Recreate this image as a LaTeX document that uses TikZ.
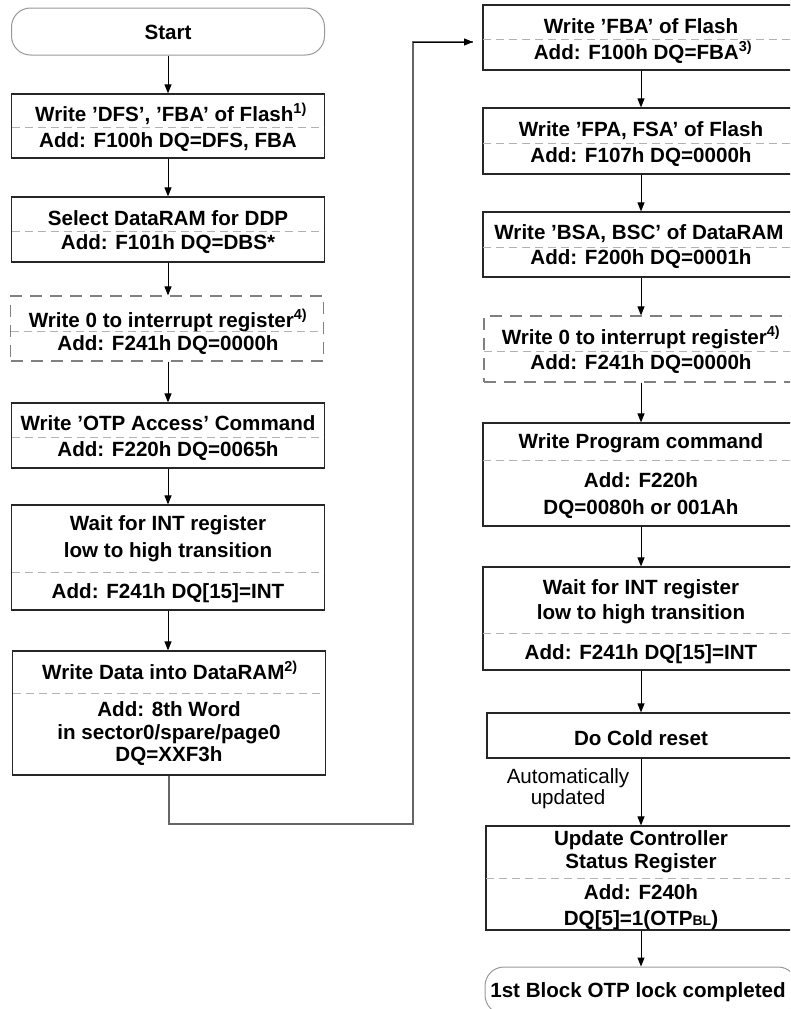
\documentclass[tikz,border=0pt]{standalone}
\usepackage{fontspec}
\setmainfont{Liberation Sans}
\usetikzlibrary{arrows.meta}
\begin{document}
\begin{tikzpicture}[x=1pt,y=-1pt,
  font=\fontsize{20.6}{24}\selectfont\bfseries,
  box/.style={draw=black!85, line width=1.2pt, minimum width=313pt, inner sep=0pt},
  dbox/.style={draw=black!50, line width=1.2pt, dash pattern=on 12pt off 8pt, minimum width=313pt, inner sep=0pt},
  term/.style={draw=black!40, line width=1pt, rounded corners=19pt, minimum width=313pt, minimum height=47pt, inner sep=0pt},
  sepline/.style={draw=black!30, line width=0.8pt, dash pattern=on 8pt off 5pt},
  arr/.style={-{Triangle[length=9pt,width=7pt]}, line width=1pt, draw=black},
  txt/.style={inner sep=0pt, anchor=base},
  reg/.style={inner sep=0pt, anchor=base, font=\fontsize{20.6}{24}\selectfont\mdseries}
]
\useasboundingbox (0,0) rectangle (790,1009);
\clip (0,0) rectangle (790,1009);
\fill[white] (0,0) rectangle (790,1009);

% ---------------- left column ----------------
\node[term] (start) at (168,31.5) {};
\node[txt] (starttxt) at (168,39) {Start};

\node[box, minimum height=64pt] (L1) at (168,126) {};
\draw[sepline] (12,127) -- (324,127);
\node[txt] (L1a) at (171,121) {Write ’DFS’, ’FBA’ of Flash\textsuperscript{1)}};
\node[txt] (L1b) at (168,147) {Add: F100h DQ=DFS, FBA};

\node[box, minimum height=65pt] (L2) at (168,229.5) {};
\draw[sepline] (12,231) -- (324,231);
\node[txt] (L2a) at (168,225) {Select DataRAM for DDP};
\node[txt] (L2b) at (168,249) {Add: F101h DQ=DBS*};

\node[dbox, minimum height=65pt] (L3) at (167,328.5) {};
\draw[sepline] (11,331) -- (323,331);
\node[txt] (L3a) at (168,327) {Write 0 to interrupt register\textsuperscript{4)}};
\node[txt] (L3b) at (168,350) {Add: F241h DQ=0000h};

\node[box, minimum height=65pt] (L4) at (168,435.5) {};
\draw[sepline] (12,437) -- (324,437);
\node[txt] (L4a) at (168,430) {Write ’OTP Access’ Command};
\node[txt] (L4b) at (168,456) {Add: F220h DQ=0065h};

\node[box, minimum height=105pt] (L5) at (168,557.5) {};
\draw[sepline] (12,572) -- (324,572);
\node[txt] (L5a) at (168,530) {Wait for INT register};
\node[txt] (L5b) at (168,557) {low to high transition};
\node[txt] (L5c) at (168,598) {Add: F241h DQ[15]=INT};

\node[box, minimum height=124pt] (L6) at (169,713) {};
\draw[sepline] (13,693) -- (325,693);
\node[txt] (L6a) at (170,679) {Write Data into DataRAM\textsuperscript{2)}};
\node[txt] (L6b) at (169,716) {Add: 8th Word};
\node[txt] (L6c) at (169,739) {in sector0/spare/page0};
\node[txt] (L6d) at (169,761) {DQ=XXF3h};

\draw[arr] (start.south) -- (L1.north);
\draw[arr] (L1.south) -- (L2.north);
\draw[arr] (L2.south) -- (L3.north -| L2.south);
\draw[arr] (L3.south -| L4.north) -- (L4.north);
\draw[arr] (L4.south) -- (L5.north);
\draw[arr] (L5.south) -- (L5.south |- L6.north);

% ---------------- right column ----------------
\node[box, minimum width=316pt, minimum height=65pt] (R1) at (641,37.5) {};
\draw[sepline] (483,39) -- (799,39);
\node[txt] (R1a) at (641,33) {Write ’FBA’ of Flash};
\node[txt] (R1b) at (643,59) {Add: F100h DQ=FBA\textsuperscript{3)}};

\node[box, minimum width=316pt, minimum height=66pt] (R2) at (641,141) {};
\draw[sepline] (483,143) -- (799,143);
\node[txt] (R2a) at (641,136) {Write ’FPA, FSA’ of Flash};
\node[txt] (R2b) at (641,162) {Add: F107h DQ=0000h};

\node[box, minimum width=316pt, minimum height=65pt] (R3) at (641,244.5) {};
\draw[sepline] (483,247) -- (799,247);
\node[txt] (R3a) at (639,239) {Write ’BSA, BSC’ of DataRAM};
\node[txt] (R3b) at (641,264) {Add: F200h DQ=0001h};

\node[dbox, minimum width=316pt, minimum height=66pt] (R4) at (642,349) {};
\draw[sepline] (484,351) -- (799,351);
\node[txt] (R4a) at (641,344) {Write 0 to interrupt register\textsuperscript{4)}};
\node[txt] (R4b) at (641,369) {Add: F241h DQ=0000h};

\node[box, minimum width=316pt, minimum height=103pt] (R5) at (641,474.5) {};
\draw[sepline] (483,460) -- (799,460);
\node[txt] (R5a) at (641,448) {Write Program command};
\node[txt] (R5b) at (641,487) {Add: F220h};
\node[txt] (R5c) at (641,514) {DQ=0080h or 001Ah};

\node[box, minimum width=316pt, minimum height=103pt] (R6) at (641,618.5) {};
\draw[sepline] (483,633) -- (799,633);
\node[txt] (R6a) at (641,594) {Wait for INT register};
\node[txt] (R6b) at (641,619) {low to high transition};
\node[txt] (R6c) at (641,659) {Add: F241h DQ[15]=INT};

\node[box, minimum width=310pt, minimum height=45pt] (R7) at (642,735.5) {};
\node[txt] (R7a) at (641,745) {Do Cold reset};

\node[box, minimum width=312pt, minimum height=104pt] (R8) at (642,878) {};
\draw[sepline] (486,878) -- (799,878);
\node[txt] (R8a) at (641,845) {Update Controller};
\node[txt] (R8b) at (641,868) {Status Register};
\node[txt] (R8c) at (641,899) {Add: F240h};
\node[txt] (R8d) at (641,925) {DQ[5]=1(OTP{\fontsize{14}{14}\selectfont BL})};

\node[term, minimum width=312pt] (endt) at (641,990.5) {};
\node[txt] (endtxt) at (638,997) {1st Block OTP lock completed};

\node[reg] (auto1) at (568,783) {Automatically};
\node[reg] (auto2) at (568,804) {updated};

\draw[arr] (R1.south -| 641,0) -- (R2.north -| 641,0);
\draw[arr] (R2.south -| 641,0) -- (R3.north -| 641,0);
\draw[arr] (R3.south -| 641,0) -- (R4.north -| 641,0);
\draw[arr] (R4.south -| 641,0) -- (R5.north -| 641,0);
\draw[arr] (R5.south -| 641,0) -- (R6.north -| 641,0);
\draw[arr] (R6.south -| 641,0) -- (R7.north -| 641,0);
\draw[arr] (R7.south -| 641,0) -- (R8.north -| 641,0);
\draw[arr] (R8.south -| 641,0) -- (endt.north -| 641,0);

% ---------------- loop connector ----------------
\coordinate (k1) at (413,824);
\coordinate (k2) at (413,42);
\coordinate (k3) at (473,42);
\draw[line width=1.2pt, draw=black!60] (L6.south) |- (k1) -- (k2) -- (k3);
\draw[arr] (k2) -- (k3);
\end{tikzpicture}
\end{document}
